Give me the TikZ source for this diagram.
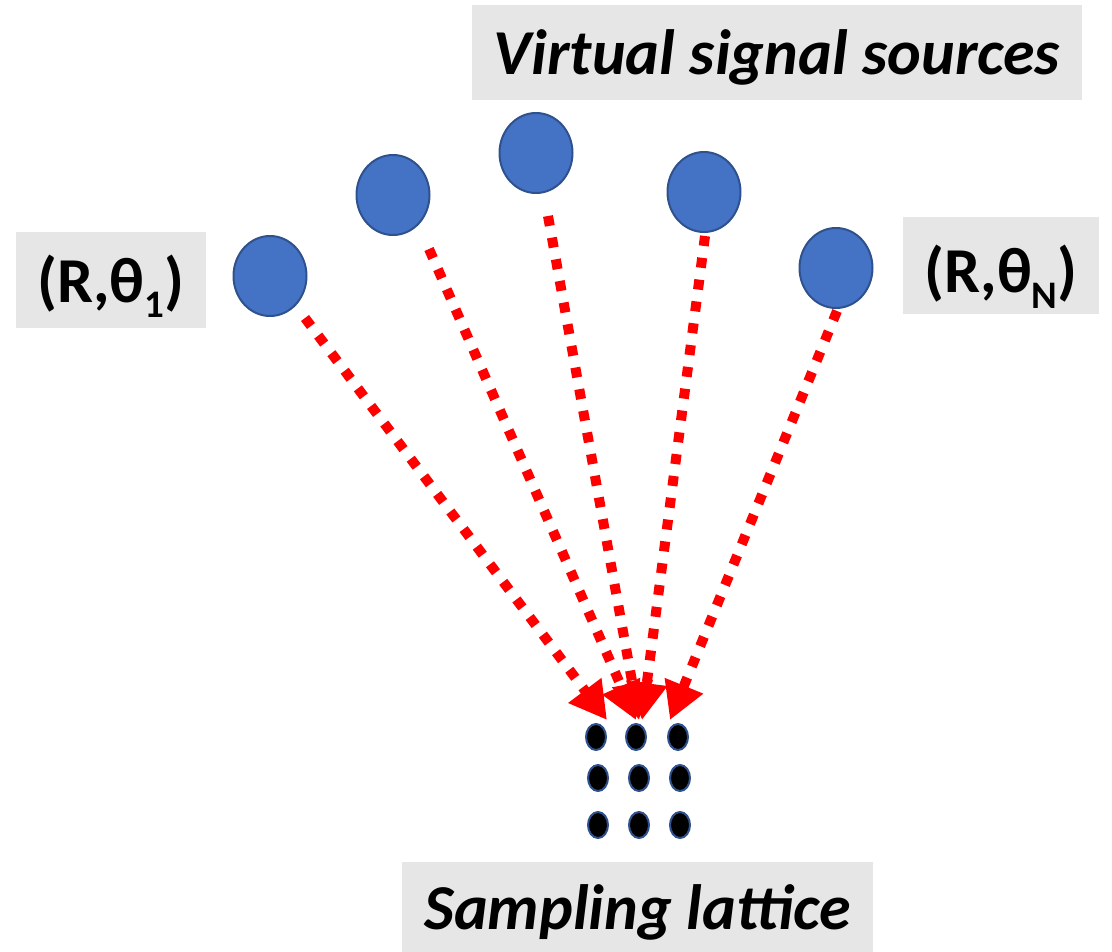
\documentclass[tikz,border=0pt]{standalone}
\usepackage{fontspec}
\setmainfont{Carlito}
\usetikzlibrary{arrows.meta,shapes.geometric}
\definecolor{srcblue}{HTML}{4472C4}
\definecolor{srcedge}{HTML}{2F528F}
\definecolor{boxgray}{HTML}{E7E6E6}
\definecolor{arrred}{HTML}{FF0000}
\begin{document}
\begin{tikzpicture}[x=1pt,y=-1pt,
  src/.style={ellipse, draw=srcedge, fill=srcblue, line width=2pt, minimum width=73pt, minimum height=80pt, inner sep=0pt},
  latdot/.style={ellipse, draw=srcedge, fill=black, line width=2pt, minimum width=20pt, minimum height=26pt, inner sep=0pt},
  lbl/.style={fill=boxgray, inner sep=0pt, font=\fontsize{64}{64}\selectfont\bfseries},
  ray/.style={draw=arrred, line width=10pt, dash pattern=on 10pt off 12pt, -{Triangle[length=37pt,width=39pt]}}
]
\useasboundingbox (0,0) rectangle (1112,952);

% label boxes
\node[lbl, font=\fontsize{64}{64}\selectfont\bfseries\itshape, minimum width=610pt, minimum height=95pt, text height=56pt, text depth=11pt] (vlbl) at (777,52.5) {Virtual signal sources};
\node[lbl, minimum width=190pt, minimum height=96pt, text height=55pt, text depth=11pt] (l1) at (111,280) {(R,θ\raisebox{-15pt}{\fontsize{39}{39}\selectfont 1})};
\node[lbl, minimum width=196pt, minimum height=97pt, text height=61pt, text depth=6pt] (lN) at (1001,265.5) {(R,θ\raisebox{-16pt}{\fontsize{39}{39}\selectfont N})};
\node[lbl, font=\fontsize{64}{64}\selectfont\bfseries\itshape, minimum width=471pt, minimum height=92pt, text height=53pt, text depth=11pt] (slbl) at (637.5,908) {Sampling lattice};

% sources
\node[src] (c1) at (270,276) {};
\node[src] (c2) at (393,195) {};
\node[src] (c3) at (536,153) {};
\node[src] (c4) at (704,192) {};
\node[src] (c5) at (836,268) {};

% lattice
\node[latdot] (d11) at (596,737) {};
\node[latdot] (d12) at (636,737) {};
\node[latdot] (d13) at (678,737) {};
\node[latdot] (d21) at (598,778) {};
\node[latdot] (d22) at (639,778) {};
\node[latdot] (d23) at (680,778) {};
\node[latdot] (d31) at (598,825) {};
\node[latdot] (d32) at (639,825) {};
\node[latdot] (d33) at (680,825) {};

% ray ends
\coordinate (s1) at (305,318);
\coordinate (s2) at (429,249);
\coordinate (s3) at (548,216);
\coordinate (s4) at (705,236);
\coordinate (s5) at (837,311);
\coordinate (t1) at (607,720);
\coordinate (t2) at (636,720);
\coordinate (t3) at (639,720);
\coordinate (t4) at (642,720);
\coordinate (t5) at (670,720);

\draw[ray] (s1) -- (t1);
\draw[ray] (s2) -- (t2);
\draw[ray] (s3) -- (t3);
\draw[ray] (s4) -- (t4);
\draw[ray] (s5) -- (t5);
\end{tikzpicture}
\end{document}
